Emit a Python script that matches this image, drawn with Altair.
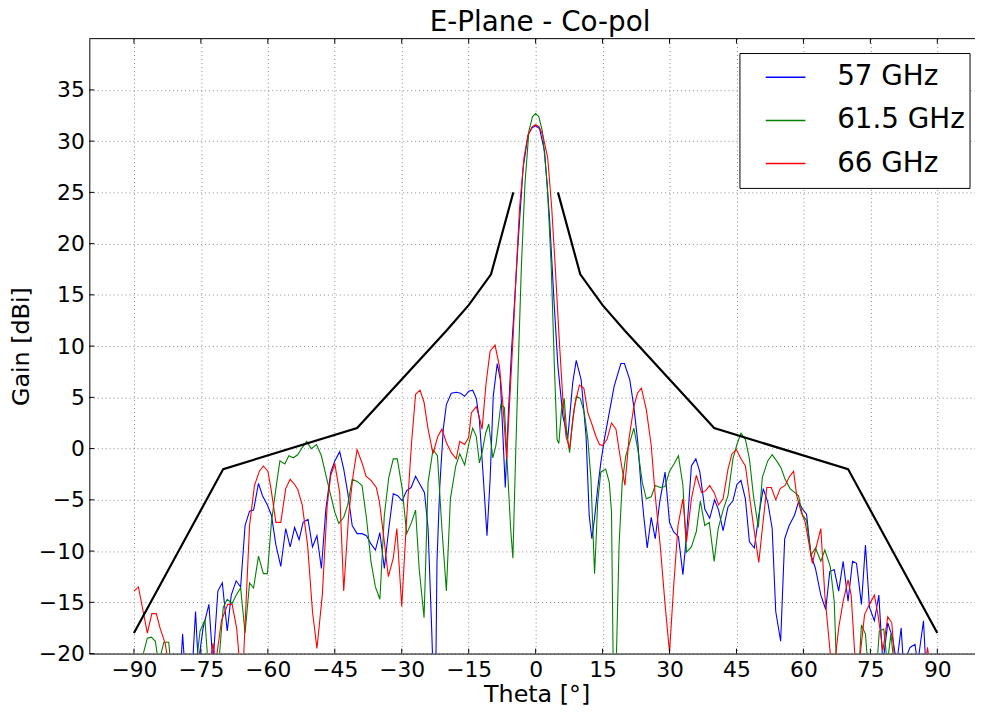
import altair as alt
import pandas as pd

title_text = "E-Plane - Co-pol"
x_title = "Theta [°]"
y_title = "Gain [dBi]"
series_names = ["57 GHz", "61.5 GHz", "66 GHz"]
series_colors = ["#0000ff", "#008000", "#ff0000"]
x_ticks = [-90, -75, -60, -45, -30, -15, 0, 15, 30, 45, 60, 75, 90]
y_ticks = [-20, -15, -10, -5, 0, 5, 10, 15, 20, 25, 30, 35]

theta_57 = [-90, -82, -79.6, -79.1, -78.5, -77, -76.2, -75.6, -74.5, -73.2, -72.3, -71.2, -70.2, -69.1, -68.2, -67.1, -66.1, -65.1, -64.1, -63.2, -62.1, -61.2, -60.1, -59.2, -58.2, -57.1, -56, -55, -54, -53, -52.1, -51, -50, -49, -48, -47, -45.9, -45, -43.9, -43, -42.1, -41.1, -40, -38.9, -37.9, -36.9, -35.9, -34.9, -33.9, -32.9, -31.9, -30.9, -29.9, -28.9, -27.9, -26.9, -25.9, -24.9, -24.1, -23.3, -22.9, -22.4, -22.1, -21.5, -20.7, -20, -18.9, -17.8, -16.8, -15.9, -15, -14.1, -13.3, -12.6, -11.7, -10.9, -10.2, -9.5, -8.6, -7.9, -7.4, -6.8, -6.1, -5.4, -4.7, -3.9, -2.8, -1.7, -0.8, 0, 0.9, 2, 3.1, 4.1, 5, 6.1, 7.2, 8.3, 9.1, 10.2, 11.3, 12, 12.6, 13.2, 13.9, 14.6, 15.4, 16.5, 17.6, 19.1, 19.9, 21.1, 22, 22.9, 23.6, 24.2, 25, 25.9, 26.8, 27.8, 29, 30, 30.9, 32, 33, 33.8, 34.9, 35.9, 36.8, 37.9, 39, 40.1, 41, 42, 43.1, 44.2, 45.1, 46, 47, 47.9, 49, 50, 51, 52, 53, 53.8, 54.9, 55.8, 56.8, 58, 58.9, 59.8, 60.7, 61.7, 62.7, 63.9, 65, 65.9, 66.9, 67.9, 68.9, 70, 71, 71.9, 73, 73.9, 74.8, 75.9, 76.9, 77.8, 78.9, 80, 80.9, 81.9, 82.4, 83.9, 85, 85.6, 86.9, 87.4, 90]
gain_57 = [-24, -24, -22, -18.1, -22, -22, -15.9, -21, -17.5, -15.2, -21, -13.9, -13.1, -17.8, -14.3, -12.9, -13.5, -7.5, -6.1, -6, -3.4, -4.6, -5.5, -6.5, -9.4, -11.5, -7.8, -9.6, -7.7, -8.9, -7.2, -6.9, -9.6, -8.5, -11.7, -5.9, -2.3, -1.2, -0.3, -2, -4.3, -7.5, -8.3, -8.3, -8.5, -9.3, -9.9, -8.2, -11.7, -7.8, -4.4, -4.6, -5.1, -4.1, -3.8, -2.7, -3.5, -4.3, -7.8, -17.5, -23, -23, -11, -3.9, 1.9, 4.3, 5.4, 5.5, 5.4, 5.1, 5.6, 5.7, 4.9, 2.8, -3, -8.5, -3, 5.1, 8.3, 6.7, 1.9, -3.8, 3.5, 9.6, 14.5, 20.3, 27.4, 30.6, 31.3, 31.5, 31.2, 29, 22.6, 14.5, 8, 3.2, 1, 6.4, 8.6, 6.7, 1.2, -6.5, -8.8, -6.8, -3.9, -1.4, 0.9, 3.5, 6.1, 8.3, 8.3, 6.7, 4.1, 0.6, -3.6, -6.5, -9.7, -6.7, -8.8, -5.2, -2.3, -7.2, -8.1, -8.6, -12.3, -8.5, -1.7, -1, -2.3, -5.9, -6.8, -5, -6, -8, -5.7, -5.1, -3.5, -3.1, -4.9, -9.1, -9.7, -6.5, -3.9, -5.2, -7.8, -15.9, -18.8, -8.8, -7.5, -6.5, -5.2, -5.9, -6.4, -10.4, -11.7, -14.3, -15.7, -12, -11.8, -13.9, -11, -14.9, -11, -11.2, -15.2, -9.4, -15.5, -16.8, -14.3, -21, -17, -18.5, -21, -17.5, -21, -19.4, -19.1, -21, -16.8, -21, -22]

theta_615 = [-90, -88.2, -87, -86.1, -85.2, -84.5, -83.3, -82.2, -81.8, -76, -75.2, -74.1, -73.4, -71, -70, -69.1, -68, -67.1, -66.1, -65.1, -64.1, -63.2, -62.1, -61, -60.1, -59.2, -58.2, -57.3, -56.2, -55.3, -54.3, -53.3, -52.3, -51.3, -50.3, -49.1, -48, -47, -45.9, -45, -44.1, -43, -42.1, -41.1, -40, -38.9, -37.9, -36.9, -35.9, -34.9, -33.9, -32.9, -31.9, -31, -29.9, -28.9, -27.8, -26.9, -26.1, -25, -24.1, -23, -22, -21, -20, -19.1, -17.9, -17, -15.9, -15, -14.1, -13.3, -12.6, -12, -11.2, -10.5, -9.6, -8.9, -7.8, -7, -6.3, -5.6, -5.1, -4.5, -3.9, -3.2, -2.4, -1.5, -0.7, 0, 0.7, 1.5, 2.6, 3.5, 4.2, 4.8, 5.2, 5.8, 6.4, 6.9, 7.6, 8.3, 9.1, 10, 10.9, 11.7, 12.4, 13.2, 13.5, 13.9, 14.6, 15.7, 16.5, 17, 17.4, 18, 18.7, 19.4, 20.2, 21.1, 22, 22.9, 23.9, 24.8, 25.9, 26.8, 27.9, 29, 30, 31, 32, 33, 33.8, 34.9, 36, 36.9, 37.9, 38.9, 40, 40.9, 42, 43.1, 44.2, 45.1, 46, 47, 47.9, 48.8, 49.9, 50.8, 52, 53, 54, 55, 55.9, 57, 58.1, 58.9, 59.8, 60.7, 61.7, 62.7, 63.9, 64.8, 66, 66.9, 67.4, 72.5, 73, 73.9, 74.4, 76.5, 77, 78, 78.8, 79.6, 80.3, 90]
gain_615 = [-23, -20.5, -18.5, -18.4, -18.8, -21, -18.9, -18.9, -21, -21, -17.8, -16.7, -21, -21, -15.5, -14.7, -15.1, -14.3, -13.6, -18, -13.1, -13.6, -10.5, -12.2, -12.2, -7.2, -3.9, -1.2, -1.5, -0.7, -0.9, -0.6, 0.1, 0.7, 0, 0.4, -0.7, -2.6, -4.6, -6.2, -7.3, -6.7, -5.5, -3, -3.2, -3.6, -6.8, -11, -13.5, -14.7, -6.5, -2.8, -1, -1, -3.9, -8.3, -7.2, -6, -11.7, -16.5, -3.3, -0.1, -0.7, -7.8, -13.9, -4.9, -1.7, -0.5, -1.6, 0.4, 2, 1.2, -1.4, -0.4, 1.5, 2.4, -0.9, 0.3, 4.3, 4, -2, -7.8, -10.7, -1, 8, 17.7, 25.8, 31, 32.4, 32.7, 32.4, 31, 25.8, 17.7, 8, 0.9, 0.5, 3.8, 4.9, 1.9, -0.4, 2.8, 5.1, 4.9, 3.5, 0.9, -3, -12.2, -9.4, -5.2, -2.3, -2, -3.3, -6.2, -22, -22, -9.4, -3.3, -0.7, 0.6, 2, -0.1, -3.3, -4.9, -4.7, -3.6, -3.8, -3.7, -2.2, -1.5, -0.7, -3.6, -10.1, -9.6, -8.1, -5.1, -7.5, -7.2, -11, -7.8, -6, -4.6, -1, 0.4, 1.5, 0.9, -1, -4.6, -7.7, -2.8, -1.2, -0.6, -1.2, -1.9, -3, -3.9, -4.3, -4.6, -6.5, -7, -10.4, -9.7, -11, -9.9, -11.5, -14.9, -21, -21, -17.2, -18.1, -21, -21, -17.8, -17.6, -21, -18.1, -21, -23]

theta_66 = [-90, -89, -87, -86, -85, -84.1, -83, -82.3, -73, -72.3, -71.7, -70.4, -69, -68, -67, -66.3, -65.5, -64.1, -63, -61.9, -61, -60, -59.3, -58.2, -57.1, -56, -55, -54, -53.3, -52.3, -51.1, -50, -49, -47.8, -46.7, -45.9, -45, -43.9, -43, -41.9, -40.9, -40, -38.9, -38, -36.9, -35.7, -35, -33.9, -33, -31.9, -31.1, -30, -28.9, -27.8, -26.9, -25.9, -25, -24.1, -23, -21.9, -21, -20, -18.9, -17.8, -17, -15.9, -15, -14.4, -13.3, -12.7, -12, -11.1, -10.2, -9.1, -8.1, -7.3, -6.5, -5.8, -5, -4.3, -3.6, -2.6, -1.7, -0.8, 0, 0.8, 1.6, 2.7, 3.6, 4.4, 5.2, 6.1, 6.8, 7.6, 8.7, 9.8, 10.8, 11.7, 12.6, 13.5, 14.3, 15, 16, 17, 18, 18.9, 20, 20.9, 22, 22.8, 23.7, 24.8, 25.9, 26.8, 27.9, 29, 30, 30.9, 31.9, 33, 33.8, 34.9, 36, 37.2, 38.1, 39, 40, 41, 42, 43.1, 44, 45, 46, 47, 47.9, 49, 50, 50.8, 51.8, 52.8, 53.8, 54.8, 55.9, 56.8, 57.8, 58.5, 59.5, 60.4, 61.3, 62, 62.8, 63.9, 64.8, 66, 67, 67.9, 68.9, 70, 70.7, 71.5, 72.5, 73.7, 74.8, 75.9, 76.7, 77.8, 78.9, 79.8, 80.5, 87.3, 87.8, 88.3, 90]
gain_66 = [-13.9, -13.5, -18, -16.1, -16.1, -17.6, -19, -21, -21, -19, -21, -16.8, -15.2, -15.2, -17.5, -21, -21, -7.5, -3.6, -2.2, -1.7, -2.2, -3.9, -7.2, -7.2, -3.9, -3, -3.5, -4, -5.5, -9.4, -15.9, -19.5, -14.3, -5.5, -2.6, -1.5, -4.3, -13.9, -6.5, -2.6, -0.1, -1.4, -2.7, -3.1, -3.8, -5.2, -9.1, -12.5, -10.7, -7.8, -15.4, -6.8, 0.6, 5.3, 5.7, 4.5, 1.9, -0.5, 1.2, 1.9, 0.6, -0.4, -1, 0.7, 0.4, 1.1, 3.5, 4.1, 3.2, 1.9, 6.4, 9.5, 10.1, 8, 4.1, -1, 4.8, 11.3, 17.7, 23.5, 28.4, 30.6, 31.4, 31.6, 31.4, 30.6, 28.4, 23.5, 17.7, 11.3, 4.8, 1.2, 0, 4.1, 6.2, 5.9, 3.5, 2.4, 1.2, 0.4, 0.3, 0.9, 2.5, 1.9, -0.7, -3.6, 0.9, 4.1, 5.4, 5.9, 3.8, 0.3, -4.6, -9.4, -15.2, -19.9, -13.6, -7.5, -4.9, -9.1, -4.9, -2.6, -4.3, -4.1, -3.6, -4.3, -5.5, -4.9, -2, -0.5, -0.1, -1, -1.7, -4.6, -8.1, -11.1, -7.8, -3.8, -3.8, -5, -3.9, -3.6, -2.8, -2.2, -4.6, -6.2, -7.2, -9.4, -11.2, -9.7, -7.8, -14.3, -19.9, -21, -17.5, -14.9, -12.8, -14.3, -20, -21, -16.2, -15.2, -14.3, -16.2, -19.7, -16.4, -17, -21, -21, -19.4, -21, -22]

mask_left_theta = [-90, -70, -40, -20, -15, -10, -5]
mask_left_gain = [-18, -2, 2, 11.5, 14, 17, 25]
mask_right_theta = [5, 10, 15, 20, 40, 70, 90]
mask_right_gain = [25, 17, 14, 11.5, 2, -2, -18]

assert len(theta_57) == len(gain_57), (len(theta_57), len(gain_57))
assert len(theta_615) == len(gain_615), (len(theta_615), len(gain_615))
assert len(theta_66) == len(gain_66), (len(theta_66), len(gain_66))

rows = []
for name, th, gn in zip(series_names, [theta_57, theta_615, theta_66], [gain_57, gain_615, gain_66]):
    for i, (t, g) in enumerate(zip(th, gn)):
        rows.append({"series": name, "theta": t, "gain": g, "i": i})
df = pd.DataFrame(rows)

mrows = []
for side, th, gn in [("L", mask_left_theta, mask_left_gain), ("R", mask_right_theta, mask_right_gain)]:
    for i, (t, g) in enumerate(zip(th, gn)):
        mrows.append({"side": side, "theta": t, "gain": g, "i": i})
mask_df = pd.DataFrame(mrows)

W, H = 893, 620
PX_PER_DEG = 4.5
x_scale = alt.Scale(domain=[-100, -100 + W / PX_PER_DEG], nice=False, zero=False)
y_scale = alt.Scale(domain=[-20, 40], nice=False, zero=False)
FONT = "DejaVu Sans"

lines = alt.Chart(df).mark_line(clip=True, strokeWidth=1.1).encode(
    x=alt.X("theta:Q", scale=x_scale, title=x_title,
            axis=alt.Axis(values=x_ticks, format="d")),
    y=alt.Y("gain:Q", scale=y_scale, title=y_title,
            axis=alt.Axis(values=y_ticks, format="d")),
    color=alt.Color("series:N",
                    scale=alt.Scale(domain=series_names, range=series_colors),
                    legend=alt.Legend(orient="none", legendX=681, legendY=18, title=None,
                                      symbolType="stroke", symbolSize=1600, symbolStrokeWidth=1.5,
                                      labelFontSize=28, labelFont=FONT, labelColor="black",
                                      labelOffset=31, rowPadding=8.5, padding=0)),
    order="i:Q",
)

mask = alt.Chart(mask_df).mark_line(color="black", strokeWidth=2.2, clip=True).encode(
    x=alt.X("theta:Q", scale=x_scale, title=x_title),
    y=alt.Y("gain:Q", scale=y_scale, title=y_title),
    detail="side:N",
    order="i:Q",
)

xt_df = pd.DataFrame({"t": x_ticks})
yt_df = pd.DataFrame({"t": y_ticks})
xticks_bottom = alt.Chart(xt_df).mark_rule(color="black").encode(
    x=alt.X("t:Q", scale=x_scale, title=x_title), y=alt.value(H), y2=alt.value(H - 5))
xticks_top = alt.Chart(xt_df).mark_rule(color="black").encode(
    x=alt.X("t:Q", scale=x_scale, title=x_title), y=alt.value(0), y2=alt.value(5))
yticks_left = alt.Chart(yt_df).mark_rule(color="black").encode(
    y=alt.Y("t:Q", scale=y_scale, title=y_title), x=alt.value(0), x2=alt.value(5))

one = pd.DataFrame({"a": [0]})
top_frame = alt.Chart(one).mark_rule(color="black", strokeWidth=1).encode(
    x=alt.value(0), x2=alt.value(W), y=alt.value(0))
legend_box = alt.Chart(one).mark_rect(fill="white", stroke="black", strokeWidth=1).encode(
    x=alt.value(656), x2=alt.value(888), y=alt.value(15), y2=alt.value(151))

chart = alt.layer(
    lines, mask, xticks_bottom, xticks_top, yticks_left, top_frame, legend_box
).properties(
    width=W, height=H,
    title=alt.TitleParams(title_text, fontSize=28, font=FONT, fontWeight="normal",
                          anchor="middle", frame="group", baseline="bottom",
                          offset=1, dx=8, dy=28, color="black"),
    autosize=alt.AutoSizeParams(type="none"),
    padding={"left": 82, "top": 28, "right": 0, "bottom": 54},
).configure_view(stroke=None).configure_axis(
    labelFont=FONT, labelFontSize=22, labelColor="black",
    titleFont=FONT, titleFontSize=24, titleFontWeight="normal", titleColor="black",
    grid=True, gridColor="#888888", gridDash=[1, 3], gridWidth=1,
    ticks=False, domain=True, domainColor="black", domainWidth=1,
    labelPadding=6,
).configure_axisX(
    titleX=451, titleY=41, titleBaseline="middle",
).configure_axisY(
    titleX=-68, titleBaseline="middle", labelPadding=5,
)

chart.save("out.html", embed_options={"renderer": "svg", "actions": False})
